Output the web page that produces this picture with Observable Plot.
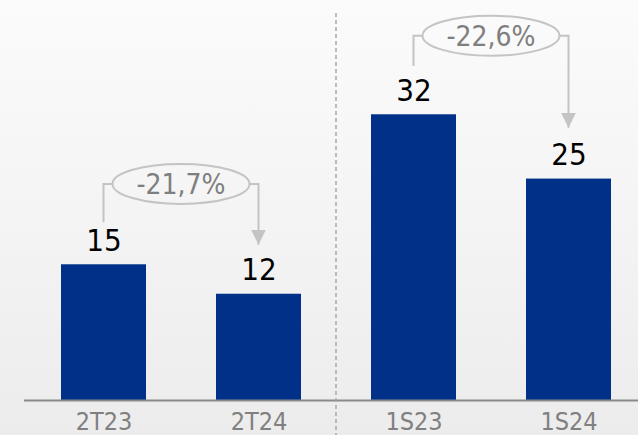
<!DOCTYPE html>
<html>
<head>
<meta charset="utf-8">
<script src="https://cdn.jsdelivr.net/npm/d3@7"></script>
<script src="https://cdn.jsdelivr.net/npm/@observablehq/plot@0.6"></script>
<style>
  html, body { margin: 0; padding: 0; }
  body { width: 638px; height: 435px; background: linear-gradient(to bottom, #fbfbfc 0%, #f4f4f4 50%, #ececec 100%); overflow: hidden; }
  #chart svg { display: block; background: transparent; }
</style>
</head>
<body>
<div id="chart"></div>
<script>
const categories = ["2T23", "2T24", "1S23", "1S24"];
const values = [15.2, 11.9, 32.0, 24.8];
const valueLabels = ["15", "12", "32", "25"];
// annotation pairs: from, to, label, level (bracket top), start of left stub, arrow tip
const pairFrom = ["2T23", "1S23"];
const pairTo = ["2T24", "1S24"];
const pairLabels = ["-21,7%", "-22,6%"];
const pairLevels = [24.2, 40.8];
const pairStarts = [19.9, 37.4];
const pairTips = [17.4, 30.5];

const data = categories.map((c, i) => ({cat: c, value: values[i], label: valueLabels[i]}));
const pairs = pairFrom.map((f, i) => ({from: f, to: pairTo[i], label: pairLabels[i], level: pairLevels[i], start: pairStarts[i], tip: pairTips[i]}));

const GRAY = "#c4c4c4";
const FONT = "'DejaVu Sans Condensed', 'DejaVu Sans', sans-serif";

function annotations(index, scales, values, dimensions) {
  const {x, y} = scales;
  const bw = x.bandwidth();
  const cx = c => x(c) + bw / 2;
  const g = d3.create("svg:g");
  // separator
  const sepX = (x("2T24") + bw + x("1S23")) / 2;
  g.append("line")
    .attr("x1", sepX).attr("x2", sepX)
    .attr("y1", 13).attr("y2", dimensions.height)
    .attr("stroke", "#a8a8a8").attr("stroke-width", 1.5)
    .attr("stroke-dasharray", "4,3");
  const defs = g.append("defs");
  defs.append("marker").attr("id", "arrowhead")
    .attr("viewBox", "0 0 10 10").attr("refX", 10).attr("refY", 5)
    .attr("markerWidth", 15).attr("markerHeight", 15)
    .attr("markerUnits", "userSpaceOnUse")
    .attr("orient", "auto")
    .append("path").attr("d", "M0,0 L10,5 L0,10 Z").attr("fill", GRAY);
  for (const p of pairs) {
    const x1 = cx(p.from), x2 = cx(p.to);
    const ly = y(p.level);
    const ex = (x1 + x2) / 2;
    const rx = (x2 - x1) / 2 - 9, ry = 20;
    g.append("path")
      .attr("d", `M${x1},${y(p.start)} V${ly} H${ex - rx}`)
      .attr("fill", "none").attr("stroke", GRAY).attr("stroke-width", 2);
    g.append("path")
      .attr("d", `M${ex + rx},${ly} H${x2} V${y(p.tip)}`)
      .attr("fill", "none").attr("stroke", GRAY).attr("stroke-width", 2)
      .attr("marker-end", "url(#arrowhead)");
    g.append("ellipse")
      .attr("cx", ex).attr("cy", ly).attr("rx", rx).attr("ry", ry)
      .attr("fill", "none").attr("stroke", GRAY).attr("stroke-width", 2);
    g.append("text")
      .attr("x", ex).attr("y", ly).attr("dy", "0.36em")
      .attr("text-anchor", "middle")
      .attr("font-family", FONT).attr("font-size", 28)
      .attr("fill", "#7f7f7f")
      .text(p.label);
  }
  return g.node();
}

const chart = Plot.plot({
  width: 638,
  height: 435,
  marginLeft: 24,
  marginRight: 0,
  marginTop: 0,
  marginBottom: 35,
  style: {fontFamily: FONT, background: "transparent", overflow: "visible"},
  x: {domain: categories, paddingInner: 0.45, paddingOuter: 0.193, align: 0.58, label: null},
  y: {domain: [0, 44.8], axis: null},
  marks: [
    Plot.barY(data, {x: "cat", y: "value", fill: "#003087"}),
    Plot.ruleY([0], {stroke: "#8a8a8a", strokeWidth: 2}),
    Plot.text(data, {x: "cat", y: "value", text: "label", dy: -24, fontSize: 31, fill: "#000"}),
    Plot.axisX({tickSize: 0, tickPadding: 12, fontSize: 25, color: "#808080", label: null}),
    annotations
  ]
});
document.getElementById("chart").append(chart);
</script>
</body>
</html>
